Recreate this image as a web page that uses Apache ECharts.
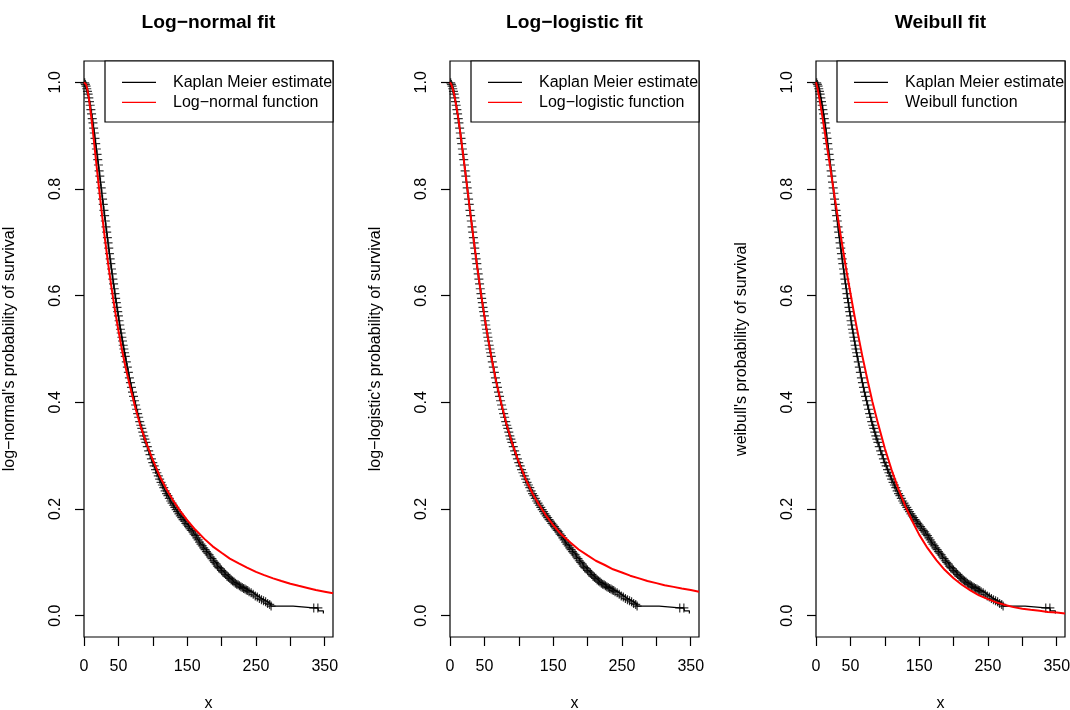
<!DOCTYPE html>
<html><head><meta charset="utf-8">
<script src="https://cdn.jsdelivr.net/npm/echarts@6/dist/echarts.min.js"></script>
<style>html,body{margin:0;padding:0;background:#fff}#c{width:1070px;height:710px}</style>
</head><body><div id="c"></div>
<script>
// ---------- data ----------
const panelTitles = ['Log\u2212normal fit', 'Log\u2212logistic fit', 'Weibull fit'];
const yAxisNames = ["log\u2212normal's probability of survival", "log\u2212logistic's probability of survival", "weibull's probability of survival"];
const fitNames = ['Log\u2212normal function', 'Log\u2212logistic function', 'Weibull function'];
const kmName = 'Kaplan Meier estimate';
const xAxisName = 'x';

const xTicks = [0, 50, 100, 150, 200, 250, 300, 350];
const xTickLabels = [0, 50, 150, 250, 350];
const yTicks = [0, 0.2, 0.4, 0.6, 0.8, 1.0];

// Kaplan-Meier estimate (step function) with censoring marks
const km_time = [0,1,2,3,4,5,6,7,8,9,10,11,12,13,14,15,16,17,18,19,20,21,22,23,24,25,26,27,28,29,30,31,32,33,34,35,36,37,38,39,40,41,42,43,44,45,46,47,48,49,50,51,52,53,54,55,56,57,58,59,60,61.5,63,64.5,66,67.5,69,70.5,72,73.5,75,76.5,78,79.5,81,82.5,84,85.5,87,88.5,90,92,94,96,98,100,102,104,106,108,110,112,114,116,118,120,122,124,126,128,130,132,134,136,138,140,142,144,146,148,150,152,154,156,158,160,162,164,166,168,170,172,174,176,178,180,182,184,186,188,190,192,194,196,198,200,202,204,206,208,210,212,214,216,218,220,222,224,226,228,230,232,234,236,238,240,243,246,249,252,255,258,261,264,267,270,272,304,334,340,341,348];
const km_surv = [1.000,0.999,0.996,0.993,0.988,0.983,0.978,0.971,0.964,0.957,0.949,0.941,0.932,0.924,0.914,0.905,0.895,0.885,0.875,0.865,0.855,0.845,0.834,0.824,0.813,0.802,0.792,0.781,0.771,0.760,0.750,0.740,0.729,0.719,0.709,0.699,0.689,0.679,0.669,0.660,0.650,0.641,0.631,0.622,0.613,0.604,0.595,0.587,0.578,0.570,0.562,0.553,0.545,0.537,0.530,0.522,0.515,0.507,0.500,0.493,0.486,0.476,0.466,0.456,0.446,0.437,0.428,0.419,0.411,0.403,0.395,0.387,0.379,0.372,0.364,0.357,0.351,0.344,0.337,0.331,0.325,0.317,0.309,0.302,0.294,0.287,0.281,0.274,0.268,0.262,0.256,0.250,0.245,0.240,0.234,0.229,0.225,0.220,0.215,0.211,0.207,0.203,0.199,0.195,0.191,0.187,0.184,0.180,0.177,0.173,0.170,0.167,0.163,0.160,0.157,0.153,0.150,0.146,0.142,0.138,0.134,0.131,0.127,0.124,0.120,0.117,0.114,0.110,0.107,0.103,0.100,0.097,0.093,0.090,0.088,0.085,0.082,0.080,0.077,0.074,0.072,0.070,0.067,0.065,0.063,0.061,0.059,0.058,0.056,0.054,0.053,0.051,0.050,0.048,0.047,0.045,0.043,0.040,0.037,0.035,0.032,0.030,0.028,0.026,0.023,0.021,0.018,0.0146,0.0146,0.0146,0.009,0.004];
const km_no_mark_times = [0, 304, 341, 348];

// fitted survival curves
const fit_time = [0,1,2,3,5,7,10,12,15,20,25,30,35,40,45,50,55,60,67,75,82,90,100,110,120,130,140,150,162,175,187,200,212,225,237,250,262,275,287,300,312,325,337,350,362];
const lognormal_surv = [1.000,1.000,0.999,0.996,0.986,0.971,0.941,0.919,0.883,0.823,0.765,0.711,0.661,0.615,0.573,0.535,0.500,0.468,0.429,0.388,0.356,0.326,0.292,0.262,0.237,0.215,0.196,0.179,0.161,0.144,0.130,0.118,0.107,0.098,0.090,0.082,0.076,0.070,0.065,0.060,0.056,0.052,0.048,0.045,0.042];
const loglogistic_surv = [1.000,0.999,0.996,0.993,0.983,0.971,0.949,0.933,0.905,0.855,0.803,0.750,0.699,0.650,0.604,0.562,0.522,0.486,0.440,0.395,0.360,0.325,0.288,0.256,0.229,0.207,0.187,0.170,0.152,0.137,0.124,0.113,0.103,0.095,0.087,0.081,0.075,0.070,0.065,0.061,0.057,0.054,0.051,0.048,0.045];
const weibull_surv = [1.000,0.995,0.990,0.983,0.969,0.954,0.930,0.913,0.888,0.846,0.803,0.761,0.720,0.680,0.641,0.605,0.569,0.535,0.489,0.441,0.401,0.361,0.314,0.273,0.237,0.205,0.177,0.152,0.127,0.104,0.086,0.070,0.058,0.047,0.038,0.031,0.025,0.020,0.016,0.013,0.011,0.009,0.007,0.006,0.004];
const fitSurv = [lognormal_surv, loglogistic_surv, weibull_surv];

// ---------- layout / style ----------
const FONT = "'Liberation Sans', Arial, Helvetica, sans-serif";
const PL = [84, 450, 816], PW = 249, PT = 61, PH = 576;
const LW = 1.2;

const kmData = km_time.map((t, j) => [t, km_surv[j]]);
const kmMarks = kmData.filter(d => km_no_mark_times.indexOf(d[0]) < 0);

const grids = [], xAxes = [], yAxes = [], series = [], graphics = [];
PL.forEach((L, i) => {
  grids.push({left: L, top: PT, width: PW, height: PH, show: true, borderColor: '#000', borderWidth: LW,
    backgroundColor: 'transparent', containLabel: false, outerBoundsMode: 'none'});
  xAxes.push({type: 'value', gridIndex: i, min: 0, max: 362, position: 'bottom',
    axisLine: {show: false, onZero: false},
    axisTick: {show: true, customValues: xTicks, length: 9, lineStyle: {color: '#000', width: LW}},
    axisLabel: {customValues: xTickLabels, margin: 22, fontSize: 16, color: '#000', fontFamily: FONT},
    splitLine: {show: false},
    name: xAxisName, nameLocation: 'middle', nameGap: 59,
    nameTextStyle: {fontSize: 16, color: '#000', fontFamily: FONT}});
  yAxes.push({type: 'value', gridIndex: i, min: -0.04, max: 1.04, position: 'left',
    axisLine: {show: false, onZero: false},
    axisTick: {show: true, customValues: yTicks, length: 9, lineStyle: {color: '#000', width: LW}},
    axisLabel: {customValues: yTicks, rotate: 90, margin: 20, fontSize: 16, color: '#000', fontFamily: FONT,
      formatter: v => v.toFixed(1)},
    splitLine: {show: false},
    name: yAxisNames[i], nameLocation: 'middle', nameGap: 66, nameRotate: 90,
    nameTextStyle: {fontSize: 16, color: '#000', fontFamily: FONT}});
  series.push({type: 'line', name: kmName, xAxisIndex: i, yAxisIndex: i, data: kmData, step: 'end',
    showSymbol: false, symbol: 'none', lineStyle: {color: '#000', width: LW}, itemStyle: {color: '#000'}});
  series.push({type: 'scatter', name: kmName + ' marks', xAxisIndex: i, yAxisIndex: i, data: kmMarks,
    symbol: 'path://M0,5H10M5,0V10', symbolSize: 9,
    itemStyle: {color: 'rgba(0,0,0,0)', borderColor: '#000', borderWidth: LW}});
  series.push({type: 'line', name: fitNames[i], xAxisIndex: i, yAxisIndex: i,
    data: fit_time.map((t, j) => [t, fitSurv[i][j]]), smooth: false,
    showSymbol: false, symbol: 'none', lineStyle: {color: '#FF0000', width: 2}, itemStyle: {color: '#FF0000'}});

  // title
  graphics.push({type: 'text', x: L + PW / 2, y: 23, z: 20,
    style: {text: panelTitles[i], fontSize: 19.2, fontWeight: 'bold', fontFamily: FONT, fill: '#000',
      align: 'center', verticalAlign: 'middle'}});
  // legend box
  graphics.push({type: 'rect', z: 20, shape: {x: L + 21, y: PT, width: PW - 21, height: 61},
    style: {fill: '#fff', stroke: '#000', lineWidth: LW}});
  graphics.push({type: 'line', z: 21, shape: {x1: L + 38, y1: 82.3, x2: L + 72, y2: 82.3},
    style: {stroke: '#000', lineWidth: LW}});
  graphics.push({type: 'line', z: 21, shape: {x1: L + 38, y1: 102.3, x2: L + 72, y2: 102.3},
    style: {stroke: '#FF0000', lineWidth: LW}});
  graphics.push({type: 'text', z: 21, x: L + 89, y: 82.3,
    style: {text: kmName, fontSize: 16, fontFamily: FONT, fill: '#000', align: 'left', verticalAlign: 'middle'}});
  graphics.push({type: 'text', z: 21, x: L + 89, y: 102.3,
    style: {text: fitNames[i], fontSize: 16, fontFamily: FONT, fill: '#000', align: 'left', verticalAlign: 'middle'}});
});

const chart = echarts.init(document.getElementById('c'), null, {renderer: 'canvas'});
chart.setOption({
  animation: false,
  backgroundColor: '#fff',
  grid: grids, xAxis: xAxes, yAxis: yAxes, series: series, graphic: graphics
});
</script>
</body></html>
